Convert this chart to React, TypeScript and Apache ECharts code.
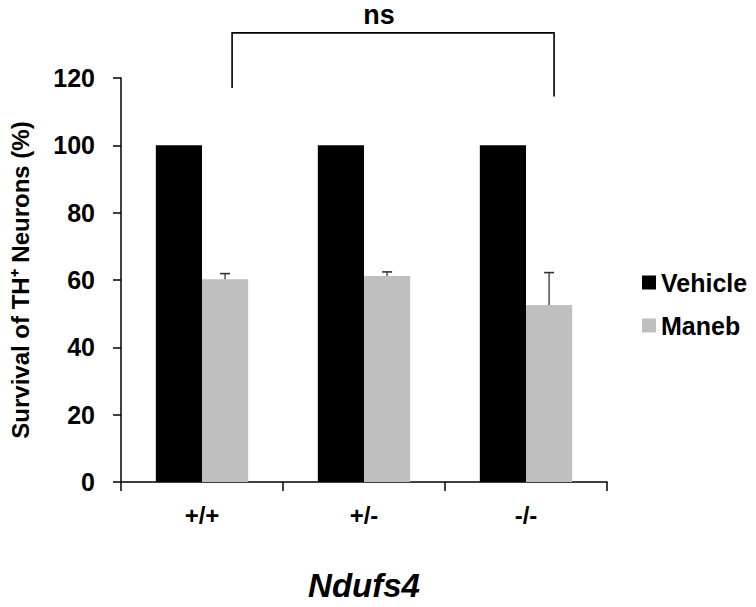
import React, { useEffect, useRef } from "react";
import * as echarts from "echarts";

const categories = ["+/+", "+/-", "-/-"];
const vehicleValues = [100, 100, 100];
const manebValues = [60.2, 61.2, 52.6];
const manebErrors = [1.7, 1.2, 9.6];
const yTicks = [0, 20, 40, 60, 80, 100, 120];
// bracket: from category 0 to category 2 (Maneb bars), top level and leg ends
const bracketTop = 133.4;
const bracketLegEnds = [117.0, 114.5];
const bracketLabel = "ns";

const FONT = "'Liberation Sans', Arial, Helvetica, sans-serif";
const BAR_GAP_RATIO = 0.43;

export default function App() {
  const ref = useRef<HTMLDivElement>(null);
  useEffect(() => {
    if (!ref.current) return;
    const chart = echarts.init(ref.current, null, { renderer: "svg" });
    const manebOffset = (1 - BAR_GAP_RATIO) / 4; // fraction of band width

    chart.setOption({
      animation: false,
      backgroundColor: "#ffffff",
      grid: { left: 120, right: 149, top: 78, bottom: 121, containLabel: false },
      legend: {
        orient: "vertical",
        left: 637,
        top: 265,
        itemWidth: 14,
        itemHeight: 14,
        itemGap: 18,
        itemTextGap: 6,
        icon: "rect",
        data: ["Vehicle", "Maneb"],
        textStyle: { fontFamily: FONT, fontWeight: "bold", fontSize: 25, color: "#000" },
      },
      xAxis: {
        type: "category",
        data: categories,
        axisLine: { lineStyle: { color: "#000", width: 1.5 } },
        axisTick: { show: true, length: 9, lineStyle: { color: "#000", width: 1.5 } },
        axisLabel: {
          margin: 21,
          fontFamily: FONT,
          fontWeight: "bold",
          fontSize: 24,
          color: "#000",
        },
        name: "Ndufs4",
        nameLocation: "middle",
        nameGap: 87,
        nameTextStyle: {
          fontFamily: FONT,
          fontWeight: "bold",
          fontStyle: "italic",
          fontSize: 33,
          color: "#000",
        },
      },
      yAxis: {
        type: "value",
        min: yTicks[0],
        max: yTicks[yTicks.length - 1],
        interval: 20,
        splitLine: { show: false },
        axisLine: { show: true, lineStyle: { color: "#000", width: 1.5 } },
        axisTick: { show: true, length: 8, inside: false, lineStyle: { color: "#000", width: 1.5 } },
        axisLabel: {
          margin: 26,
          fontFamily: FONT,
          fontWeight: "bold",
          fontSize: 25,
          color: "#000",
        },
        name: "Survival of TH⁺ Neurons (%)",
        nameLocation: "middle",
        nameGap: 89,
        nameRotate: 90,
        nameTextStyle: {
          fontFamily: FONT,
          fontWeight: "bold",
          fontSize: 24,
          color: "#000",
        },
      },
      series: [
        {
          name: "Vehicle",
          type: "bar",
          data: vehicleValues,
          barGap: "0%",
          barCategoryGap: BAR_GAP_RATIO * 100 + "%",
          itemStyle: { color: "#000000" },
        },
        {
          name: "Maneb",
          type: "bar",
          data: manebValues,
          barGap: "0%",
          barCategoryGap: BAR_GAP_RATIO * 100 + "%",
          itemStyle: { color: "#bfbfbf" },
        },
        {
          name: "errors",
          type: "custom",
          z: 5,
          clip: false,
          data: manebValues.map((v, i) => [i, v, v + manebErrors[i]]),
          renderItem: (params: any, api: any) => {
            const idx = api.value(0);
            const base = api.coord([idx, api.value(1)]);
            const top = api.coord([idx, api.value(2)]);
            const band = api.size([1, 0])[0];
            const x = base[0] + band * manebOffset;
            const cap = 5;
            return {
              type: "group",
              children: [
                {
                  type: "line",
                  shape: { x1: x, y1: base[1], x2: x, y2: top[1] },
                  style: { stroke: "#333", lineWidth: 1.3 },
                },
                {
                  type: "line",
                  shape: { x1: x - cap, y1: top[1], x2: x + cap, y2: top[1] },
                  style: { stroke: "#333", lineWidth: 1.6 },
                },
              ],
            };
          },
        },
        {
          name: "bracket",
          type: "custom",
          z: 5,
          clip: false,
          data: [[0, 2, bracketTop, bracketLegEnds[0], bracketLegEnds[1]]],
          renderItem: (params: any, api: any) => {
            const band = api.size([1, 0])[0];
            const a = api.value(0);
            const b = api.value(1);
            const topY = api.coord([a, api.value(2)])[1];
            const l = api.coord([a, api.value(3)]);
            const r = api.coord([b, api.value(4)]);
            const xl = l[0] + band * manebOffset + 7;
            const xr = r[0] + band * manebOffset + 5;
            return {
              type: "group",
              children: [
                {
                  type: "polyline",
                  shape: { points: [[xl, l[1]], [xl, topY], [xr, topY], [xr, r[1]]] },
                  style: { stroke: "#000", lineWidth: 1.6, fill: null },
                },
                {
                  type: "text",
                  x: (xl + xr) / 2 - 14,
                  y: topY - 4,
                  style: {
                    text: bracketLabel,
                    fontFamily: FONT,
                    fontWeight: "bold",
                    fontSize: 27,
                    fill: "#000",
                    align: "center",
                    verticalAlign: "bottom",
                  },
                },
              ],
            };
          },
        },
      ],
    });
    return () => chart.dispose();
  }, []);
  return (
    <div
      ref={ref}
      style={{ position: "fixed", left: 0, top: 0, width: 756, height: 607 }}
    />
  );
}
